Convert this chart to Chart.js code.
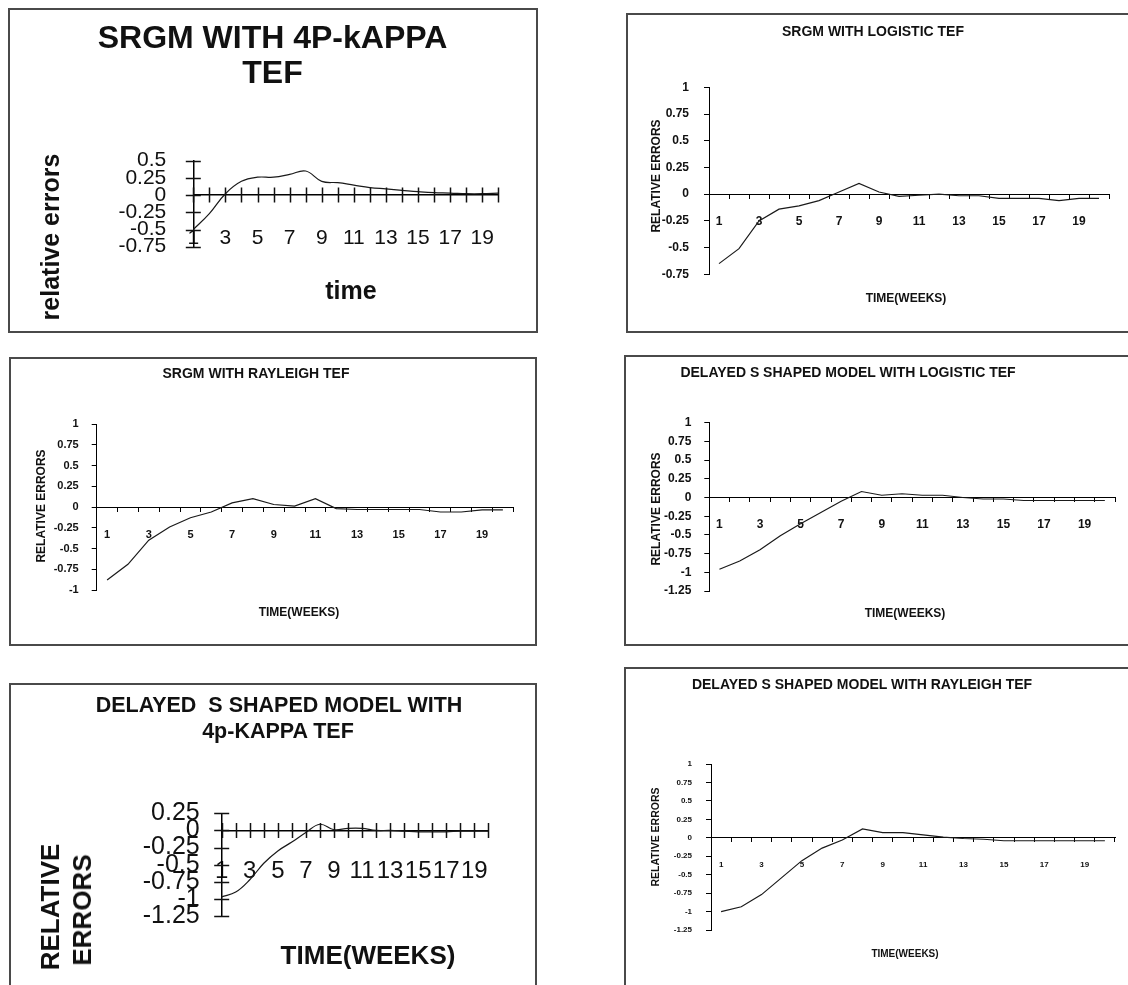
<!DOCTYPE html>
<html>
<head>
<meta charset="utf-8">
<title>Relative errors of SRGM variants</title>
<script src="https://cdn.jsdelivr.net/npm/chart.js@4.4.1/dist/chart.umd.min.js"></script>
<style>
  html, body { margin: 0; padding: 0; background: #fff; }
  body { position: relative; width: 1128px; height: 985px; overflow: hidden;
         font-family: "Liberation Sans", Arial, sans-serif; }
  .box { position: absolute; border: 2px solid #4a4a4a; box-sizing: border-box; }
  canvas { position: absolute; }
  .t { position: absolute; white-space: pre; font-weight: bold; color: #111;
       line-height: 1; transform: translate(-50%, -50%); }
  .t.rot { transform: translate(-50%, -50%) rotate(-90deg); }
</style>
</head>
<body>
<script>
// Week numbers on the time axis
const weeks = ['1','2','3','4','5','6','7','8','9','10','11','12','13','14','15','16','17','18','19','20'];

// Relative errors per week for each model / testing-effort function
const srgmKappa      = [-0.5, -0.27, 0.02, 0.2, 0.26, 0.26, 0.3, 0.35, 0.2, 0.18, 0.145, 0.11, 0.09, 0.07, 0.05, 0.035, 0.03, 0.02, 0.02, 0.03];
const srgmLogistic   = [-0.65, -0.51, -0.25, -0.14, -0.11, -0.06, 0.02, 0.1, 0.02, -0.02, -0.01, 0, -0.015, -0.015, -0.04, -0.04, -0.04, -0.06, -0.04, -0.04];
const srgmRayleigh   = [-0.88, -0.69, -0.4, -0.24, -0.13, -0.06, 0.05, 0.1, 0.03, 0.01, 0.1, -0.02, -0.03, -0.03, -0.03, -0.03, -0.06, -0.06, -0.035, -0.035];
const dssLogistic    = [-0.96, -0.85, -0.7, -0.51, -0.35, -0.2, -0.05, 0.08, 0.03, 0.05, 0.03, 0.03, 0, -0.02, -0.02, -0.04, -0.04, -0.04, -0.04, -0.04];
const dssKappa       = [-0.97, -0.9, -0.72, -0.48, -0.3, -0.17, -0.03, 0.09, 0.01, 0.03, 0.03, 0, 0, -0.01, -0.02, -0.02, -0.02, -0.01, -0.01, -0.01];
const dssRayleigh    = [-1.0, -0.935, -0.77, -0.54, -0.31, -0.14, -0.03, 0.12, 0.07, 0.07, 0.04, 0.01, -0.01, -0.02, -0.04, -0.04, -0.04, -0.04, -0.04, -0.04];

const FONT = '"Liberation Sans", Arial, sans-serif';

// Tick marks that straddle the axis lines (used by the two large-font charts)
function crossTicksPlugin(len, width) {
  return {
    id: 'crossTicks',
    afterDatasetsDraw(chart) {
      const { ctx, chartArea, scales: { x, y } } = chart;
      const ax = chartArea.left;
      const y0 = y.getPixelForValue(0);
      ctx.save();
      ctx.strokeStyle = '#111';
      ctx.lineWidth = width;
      ctx.beginPath();
      for (let i = 0; i < y.ticks.length; i++) {
        const py = Math.round(y.getPixelForTick(i)) + 0.5;
        ctx.moveTo(ax - len, py); ctx.lineTo(ax + len, py);
      }
      for (let i = 0; i < x.ticks.length; i++) {
        const px = Math.round(x.getPixelForTick(i)) + 0.5;
        ctx.moveTo(px, y0 - len); ctx.lineTo(px, y0 + len);
      }
      ctx.stroke();
      ctx.restore();
    }
  };
}

const panels = [
  { box: {x: 8, y: 8, w: 530, h: 325},   area: {l: 193.3, r: 498.3, t: 160.7, b: 246.7},
    values: srgmKappa, yMin: -0.75, yMax: 0.5, smooth: true, cross: 7.5, axisW: 1.5,
    xFont: 21, yFont: 21, weight: 'normal', xPad: 31, yPad: 27 },
  { box: {x: 626, y: 13, w: 520, h: 320}, area: {l: 709, r: 1109, t: 87.3, b: 274.3},
    values: srgmLogistic, yMin: -0.75, yMax: 1, smooth: false, cross: 0, axisW: 1,
    xFont: 12, yFont: 12, weight: 'bold', xPad: 16, yPad: 15 },
  { box: {x: 9, y: 357, w: 528, h: 289},  area: {l: 96.7, r: 513.3, t: 424, b: 590},
    values: srgmRayleigh, yMin: -1, yMax: 1, smooth: false, cross: 0, axisW: 1,
    xFont: 11, yFont: 11, weight: 'bold', xPad: 17, yPad: 13 },
  { box: {x: 624, y: 355, w: 520, h: 291}, area: {l: 709.3, r: 1115, t: 422.7, b: 591},
    values: dssLogistic, yMin: -1.25, yMax: 1, smooth: false, cross: 0, axisW: 1,
    xFont: 12, yFont: 12, weight: 'bold', xPad: 16, yPad: 13 },
  { box: {x: 9, y: 683, w: 528, h: 320},  area: {l: 221.7, r: 488.3, t: 813.3, b: 916},
    values: dssKappa, yMin: -1.25, yMax: 0.25, smooth: true, cross: 7.5, axisW: 1.5,
    xFont: 24, yFont: 25, weight: 'normal', xPad: 27, yPad: 22 },
  { box: {x: 624, y: 667, w: 520, h: 340}, area: {l: 711, r: 1115, t: 764, b: 930},
    values: dssRayleigh, yMin: -1.25, yMax: 1, smooth: false, cross: 0, axisW: 1,
    xFont: 8, yFont: 8, weight: 'bold', xPad: 18, yPad: 14 }
];

// Titles and axis captions
const captions = [
  ['SRGM WITH 4P-kAPPA', 272.5, 37, 32, false],
  ['TEF', 272.5, 72, 32, false],
  ['relative errors', 50, 237, 25, true],
  ['time', 351, 290, 25, false],

  ['SRGM WITH LOGISTIC TEF', 873, 31, 14, false],
  ['TIME(WEEKS)', 906, 298, 12, false],
  ['RELATIVE ERRORS', 656, 176, 12, true],

  ['SRGM WITH RAYLEIGH TEF', 256, 373, 14, false],
  ['TIME(WEEKS)', 299, 612, 12, false],
  ['RELATIVE ERRORS', 41, 506, 12, true],

  ['DELAYED S SHAPED MODEL WITH LOGISTIC TEF', 848, 372, 14, false],
  ['TIME(WEEKS)', 905, 613, 12, false],
  ['RELATIVE ERRORS', 656, 509, 12, true],

  ['DELAYED  S SHAPED MODEL WITH', 279, 706, 21.5, false],
  ['4p-KAPPA TEF', 278, 732, 21.5, false],
  ['RELATIVE', 50, 907, 26, true],
  ['ERRORS', 82, 910, 26, true],
  ['TIME(WEEKS)', 368, 955, 26, false],

  ['DELAYED S SHAPED MODEL WITH RAYLEIGH TEF', 862, 684, 14, false],
  ['RELATIVE ERRORS', 655, 837, 10.5, true],
  ['TIME(WEEKS)', 905, 954, 10, false]
];

panels.forEach(p => {
  const b = p.box, a = p.area;
  const frame = document.createElement('div');
  frame.className = 'box';
  Object.assign(frame.style, { left: b.x + 'px', top: b.y + 'px', width: b.w + 'px', height: b.h + 'px' });
  document.body.appendChild(frame);

  const cv = document.createElement('canvas');
  cv.width = b.w; cv.height = b.h;
  cv.style.left = b.x + 'px'; cv.style.top = b.y + 'px';
  document.body.appendChild(cv);

  const onTicks = p.cross > 0;
  new Chart(cv, {
    type: 'line',
    data: {
      labels: weeks,
      datasets: [{ data: p.values, borderColor: '#1a1a1a', borderWidth: 1.2,
                   pointRadius: 0, tension: p.smooth ? 0.4 : 0, fill: false }]
    },
    options: {
      responsive: false, animation: false, devicePixelRatio: 1,
      layout: { padding: { left: 0, top: a.t - b.y, right: b.x + b.w - a.r, bottom: b.y + b.h - a.b } },
      plugins: { legend: { display: false }, tooltip: { enabled: false } },
      scales: {
        x: {
          type: 'category', position: { y: 0 }, offset: !onTicks,
          grid: { offset: !onTicks, drawOnChartArea: false, drawTicks: !onTicks, tickLength: 4, color: '#000', lineWidth: 1 },
          border: { color: '#000', width: p.axisW },
          ticks: {
            autoSkip: false, maxRotation: 0, minRotation: 0, padding: p.xPad, color: '#111',
            font: { family: FONT, size: p.xFont, weight: p.weight },
            callback: function (v, i) { return i % 2 === 0 ? this.getLabelForValue(v) : ''; }
          },
          afterFit(s) { s.height = 0; }
        },
        y: {
          position: 'left', min: p.yMin, max: p.yMax,
          grid: { drawOnChartArea: false, drawTicks: !onTicks, tickLength: 5, color: '#000', lineWidth: 1 },
          border: { color: '#000', width: p.axisW },
          ticks: {
            autoSkip: false, stepSize: 0.25, padding: p.yPad, color: '#111',
            font: { family: FONT, size: p.yFont, weight: p.weight },
            callback: v => String(v)
          },
          afterFit(s) { s.width = a.l - b.x; }
        }
      }
    },
    plugins: onTicks ? [crossTicksPlugin(p.cross, p.axisW)] : []
  });
});

captions.forEach(([text, x, y, size, rot]) => {
  const el = document.createElement('div');
  el.className = rot ? 't rot' : 't';
  el.textContent = text;
  Object.assign(el.style, { left: x + 'px', top: y + 'px', fontSize: size + 'px' });
  document.body.appendChild(el);
});
</script>
</body>
</html>
